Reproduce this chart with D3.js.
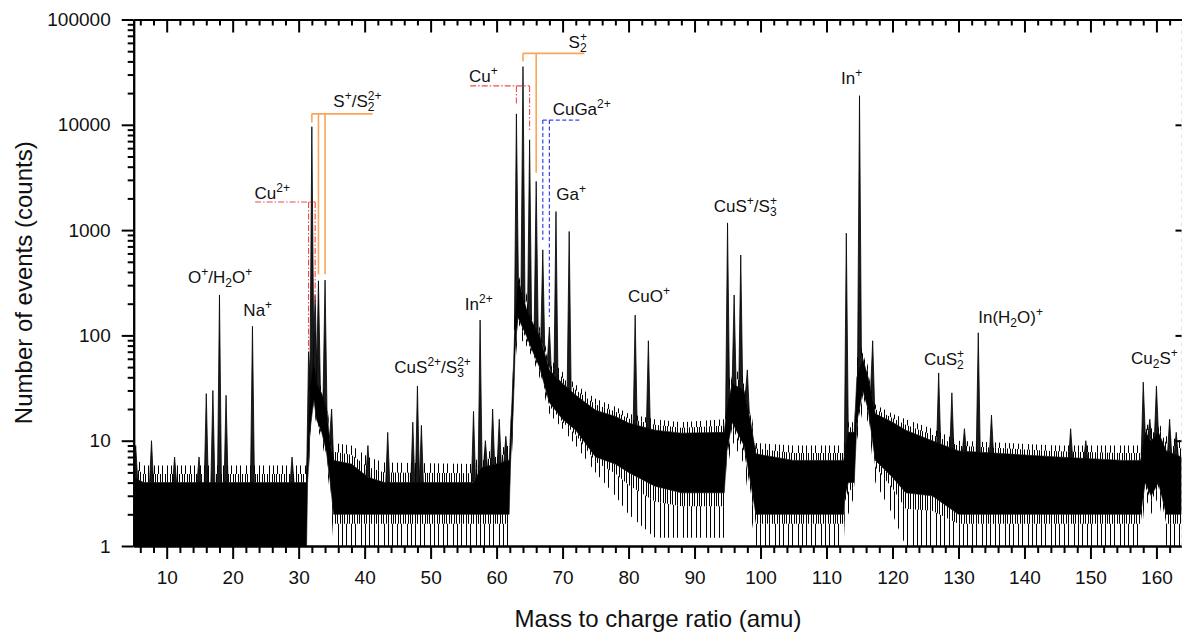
<!DOCTYPE html>
<html>
<head>
<meta charset="utf-8">
<script src="https://cdn.jsdelivr.net/npm/d3@7"></script>
<style>
  body { margin: 0; background: #fff; }
  svg { display: block; font-family: "Liberation Sans", Arial, sans-serif; }
</style>
</head>
<body>
<svg id="chart" width="1182" height="634"></svg>
<script>
var width = 1182,
    height = 634;

// background noise band (m/z, counts):
// floor = lowest sparse drops, low/high = dense band, top = sparse spikes
var bandMz    = [5.0, 6.5, 31.2, 31.35, 31.7, 32.3, 32.7, 33.5, 34.2, 34.8, 35.3, 38.0, 40.5, 43.0, 56.5, 57.6, 61.9, 62.1, 62.5, 62.8, 63.2, 64.5, 65.5, 66.5, 68.0, 70.0, 72.0, 75.0, 78.0, 80.0, 84.0, 88.0, 94.5, 94.9, 95.7, 97.5, 98.5, 99.3, 105, 112.6, 112.8, 113.3, 114.2, 114.6, 115.5, 116.3, 117.4, 120, 122, 126, 130, 145, 155, 157.6, 158.3, 159.2, 160.3, 161.5, 163.8];
var bandFloor = [1, 1, 1, 3, 8, 20, 14, 10, 6, 3, 1, 1, 1, 1, 1, 1, 1, 4, 12, 50, 100, 80, 60, 40, 18, 13, 9, 5, 3, 2, 1.2, 1.2, 1.2, 5, 10, 6, 2, 1, 1, 1, 2, 2, 3, 10, 20, 15, 4, 2, 1, 1, 1, 1, 1, 1, 3, 2, 3, 1, 1];
var bandLow   = [1, 1, 1, 4, 12, 25, 16, 12, 8, 4, 2, 2, 2, 2, 2, 2, 2, 6, 18, 70, 150, 100, 70, 50, 23, 16, 12.6, 7, 6, 5, 3.7, 3.2, 3.2, 8, 15, 9, 4, 2, 2, 2, 3, 4, 4, 15, 30, 20, 6.5, 4.5, 3.2, 3, 2, 2, 2, 2, 4, 3, 4, 2, 2];
var bandHigh  = [4.5, 4, 4, 8, 30, 60, 35, 28, 20, 9, 6.5, 6, 4.5, 4, 4, 5.5, 6.5, 12, 40, 150, 350, 180, 130, 100, 47, 35, 27, 19.5, 17, 14.7, 12.6, 11.8, 12, 20, 35, 30, 15, 7.5, 6.5, 6.5, 8, 12, 12, 40, 60, 40, 18, 15, 12.6, 10, 8, 7, 6.5, 6.5, 12, 10, 12, 8, 7];
var bandTop   = [7, 5.8, 5.8, 10, 40, 80, 45, 35, 25, 12, 9.5, 9, 7, 6.2, 6, 7.5, 9, 16, 50, 200, 450, 250, 160, 120, 60, 45, 34, 25, 21, 18, 16, 15, 16, 30, 50, 40, 20, 9.5, 9, 9, 10, 15, 15, 60, 80, 50, 22, 18, 16, 13, 10, 9, 9, 9, 15, 13, 15, 11, 10];

// peaks: m/z and apex counts
var peakMz  = [5.3, 7.7, 11.2, 14.9, 16, 17, 18, 19, 23, 29, 31.5, 32, 32.5, 33, 34, 35.0, 40.5, 43.5, 47.3, 48, 48.6, 56.5, 57.5, 58.3, 59.4, 60.4, 61.4, 63, 64, 65, 66, 67, 68, 69, 71, 81, 83, 95, 96, 97, 98, 113, 115, 117, 127, 129, 130.9, 133, 135, 147, 149.3, 158, 159, 160, 162, 163];
var peakTop = [9, 10, 7, 7, 28, 30, 242, 27, 122, 7, 70, 9600, 240, 330, 335, 20, 9, 12, 15, 33, 14, 19, 140, 10, 20, 16, 11, 12700, 35700, 7200, 2900, 650, 120, 1500, 970, 156, 89, 1170, 242, 580, 47, 935, 18900, 89, 44, 28.5, 13, 106, 17.5, 13, 10, 36, 16, 33, 16, 12];

// ion labels: text (_{} subscript, ^{} superscript), centre m/z, baseline counts
var labelText  = ["O^{+}/H_{2}O^{+}", "Na^{+}", "Cu^{2+}", "S^{+}/S_{2}^{2+}", "CuS^{2+}/S_{3}^{2+}", "In^{2+}", "Cu^{+}", "S_{2}^{+}", "CuGa^{2+}", "Ga^{+}", "CuO^{+}", "CuS^{+}/S_{3}^{+}", "In^{+}", "CuS_{2}^{+}", "In(H_{2}O)^{+}", "Cu_{2}S^{+}"];
var labelMz    = [18.1, 23.8, 26.0, 38.9, 50.3, 57.3, 58.0, 72.3, 72.9, 71.3, 83.1, 97.7, 113.8, 127.8, 137.9, 159.7];
var labelCount = [316, 153, 1974, 14860, 44.2, 174, 25650, 53280, 12390, 1932, 209, 1476, 24250, 52.4, 131, 53.5];

// isotope brackets
var bracketKind  = ["S", "Cu", "Cu", "S", "CuGa"];
var bracketLevel = [12700, 1850, 23400, 47700, 11100];
var bracketFrom  = [32, 23.4, 56, 64, 67];
var bracketTo    = [41.2, 32.5, 65, 73.3, 72.6];
var bracketMz    = [[32, 33, 34], [31.5, 32.5], [63, 65], [64, 66], [67, 68]];
var bracketEnd   = [[10500, 380, 380], [70, 190], [15500, 8700], [40000, 3500], [805, 150]];

var xMajor = d3.range(10, 161, 10),
    xMinor = d3.range(6, 164, 2).filter(function(v) { return v % 10 !== 0; }),
    yMajor = [1, 10, 100, 1000, 10000, 100000],
    yMinor = [];
yMajor.slice(0, -1).forEach(function(d) {
  for (var k = 2; k < 10; k++) yMinor.push(d * k);
});

var x = d3.scaleLinear().domain([5, 163.8]).range([133.7, 1181.5]);
var y = d3.scaleLog().domain([1, 100000]).range([546, 19.5]);

var svg = d3.select("#chart");

var defs = svg.append("defs");
defs.append("clipPath").attr("id", "plot")
  .append("rect")
    .attr("x", x.range()[0]).attr("y", y.range()[1])
    .attr("width", x.range()[1] - x.range()[0])
    .attr("height", y.range()[0] - y.range()[1]);

// vertical hatching for the noisy fringes (dense next to the band, sparse further out)
function hatch(id, w, xs) {
  var p = defs.append("pattern")
      .attr("id", id)
      .attr("patternUnits", "userSpaceOnUse")
      .attr("width", w).attr("height", 40);
  xs.forEach(function(px) {
    p.append("rect").attr("x", px).attr("y", 0).attr("width", 1).attr("height", 40).attr("fill", "#000");
  });
}
hatch("fringeDense", 17, [0, 2, 4, 7, 9, 12, 14]);
hatch("fringeSparse", 23, [1, 6, 10, 16, 20]);

var band = bandMz.map(function(m, i) {
  return {
    mz: m, floor: bandFloor[i], low: bandLow[i], high: bandHigh[i], top: bandTop[i],
    lowMid: Math.pow(bandFloor[i], 0.3) * Math.pow(bandLow[i], 0.7),
    highMid: Math.sqrt(bandHigh[i] * bandTop[i])
  };
});

function bandArea(a, b) {
  return d3.area()
      .x(function(d) { return x(d.mz); })
      .y0(function(d) { return y(d[a]); })
      .y1(function(d) { return y(d[b]); });
}

var plot = svg.append("g").attr("clip-path", "url(#plot)");

[["floor", "lowMid", "fringeSparse"], ["lowMid", "low", "fringeDense"],
 ["high", "highMid", "fringeDense"], ["highMid", "top", "fringeSparse"]].forEach(function(f) {
  plot.append("path").datum(band)
      .attr("d", bandArea(f[0], f[1]))
      .attr("fill", "url(#" + f[2] + ")");
});

plot.append("path").datum(band)
    .attr("d", bandArea("low", "high"))
    .attr("fill", "#000")
    .attr("stroke", "#000")
    .attr("stroke-width", 0.6);

// peaks drawn as narrow spikes rising out of the band
var baseAt = d3.scaleLinear().domain(bandMz).range(bandHigh);
var halfW = 0.3;

plot.selectAll(".peak")
    .data(peakMz.map(function(m, i) { return {mz: m, top: peakTop[i]}; }))
  .enter().append("path")
    .attr("class", "peak")
    .attr("d", function(d) {
      return "M" + x(d.mz - halfW) + "," + y(baseAt(d.mz - halfW))
          + "L" + x(d.mz) + "," + y(d.top)
          + "L" + x(d.mz + halfW) + "," + y(baseAt(d.mz + halfW)) + "Z";
    })
    .attr("fill", "#1a1a1a")
    .attr("stroke", "#000")
    .attr("stroke-width", 0.8)
    .attr("stroke-linejoin", "miter");

// brackets
var bracketStyle = {
  S:    {stroke: "#fba55a", width: 1.6, dash: null},
  Cu:   {stroke: "#ef4a4e", width: 1.1, dash: "6,2,1.5,2"},
  CuGa: {stroke: "#3743f2", width: 1.2, dash: "4,2.5"}
};

bracketKind.forEach(function(kind, i) {
  var st = bracketStyle[kind];
  var g = svg.append("g")
      .attr("fill", "none")
      .attr("stroke", st.stroke)
      .attr("stroke-width", st.width)
      .attr("stroke-dasharray", st.dash);
  g.append("line")
      .attr("x1", x(bracketFrom[i])).attr("x2", x(bracketTo[i]))
      .attr("y1", y(bracketLevel[i])).attr("y2", y(bracketLevel[i]));
  bracketMz[i].forEach(function(m, j) {
    g.append("line")
        .attr("x1", x(m)).attr("x2", x(m))
        .attr("y1", y(bracketLevel[i])).attr("y2", y(bracketEnd[i][j]));
  });
});

// axes
function styleAxis(g) {
  g.selectAll(".domain").attr("stroke-width", 2).attr("stroke", "#000");
  g.selectAll(".tick line").attr("stroke-width", 2).attr("stroke", "#000");
  g.selectAll(".tick text").attr("font-size", 19).attr("fill", "#111")
      .attr("font-family", "Liberation Sans, Arial, sans-serif");
}

var x0 = y.range()[0], yTop = y.range()[1];

svg.append("g")
    .attr("transform", "translate(0," + x0 + ")")
    .call(d3.axisBottom(x).tickValues(xMinor).tickSize(7).tickSizeOuter(0).tickFormat(""))
    .call(styleAxis);
svg.append("g")
    .attr("transform", "translate(0," + x0 + ")")
    .call(d3.axisBottom(x).tickValues(xMajor).tickSize(13).tickSizeOuter(0).tickPadding(12).tickFormat(d3.format("d")))
    .call(styleAxis);

svg.append("g")
    .attr("transform", "translate(0," + yTop + ")")
    .call(d3.axisTop(x).tickValues(xMinor).tickSize(-6).tickSizeOuter(0).tickFormat(""))
    .call(styleAxis);
svg.append("g")
    .attr("transform", "translate(0," + yTop + ")")
    .call(d3.axisTop(x).tickValues(xMajor).tickSize(-13).tickSizeOuter(0).tickFormat(""))
    .call(styleAxis);

svg.append("g")
    .attr("transform", "translate(" + x.range()[0] + ",0)")
    .call(d3.axisLeft(y).tickValues(yMinor).tickSize(6).tickSizeOuter(0).tickFormat(""))
    .call(styleAxis);
svg.append("g")
    .attr("transform", "translate(" + x.range()[0] + ",0)")
    .call(d3.axisLeft(y).tickValues(yMajor).tickSize(12).tickSizeOuter(0).tickPadding(11).tickFormat(d3.format("d")))
    .call(styleAxis);

var right = svg.append("g")
    .attr("transform", "translate(" + x.range()[1] + ",0)")
    .call(d3.axisRight(y).tickValues(yMajor.slice(1, -1)).tickSize(-6).tickSizeOuter(0).tickFormat(""))
    .call(styleAxis);
right.select(".domain").attr("stroke", "#c8c8c8").attr("stroke-width", 1).attr("stroke-dasharray", "4,4");

// axis titles
svg.append("text")
    .attr("x", 658).attr("y", 627)
    .attr("text-anchor", "middle")
    .attr("font-size", 24)
    .attr("fill", "#111")
    .text("Mass to charge ratio (amu)");

svg.append("text")
    .attr("transform", "translate(32," + ((y.range()[0] + y.range()[1]) / 2) + ")rotate(-90)")
    .attr("text-anchor", "middle")
    .attr("font-size", 24)
    .attr("fill", "#111")
    .text("Number of events (counts)");

// ion labels with sub/superscripts (stacked when a superscript follows a subscript)
function richText(sel, str) {
  var parts = str.match(/_\{[^}]*\}|\^\{[^}]*\}|[^_^]+/g);
  var shift = 0, lastSub = null;
  parts.forEach(function(p) {
    var kind = p[0] === "_" ? "sub" : (p[0] === "^" ? "sup" : "norm");
    var txt = kind === "norm" ? p : p.slice(2, -1);
    var target = kind === "sub" ? 4 : (kind === "sup" ? -7 : 0);
    var t = sel.append("tspan").attr("dy", target - shift).text(txt);
    if (kind !== "norm") t.attr("font-size", 12);
    if (kind === "sup" && lastSub) t.attr("dx", -lastSub.node().getComputedTextLength());
    shift = target;
    lastSub = kind === "sub" ? t : null;
  });
}

labelText.forEach(function(s, i) {
  var t = svg.append("text")
      .attr("x", x(labelMz[i]))
      .attr("y", y(labelCount[i]))
      .attr("text-anchor", "middle")
      .attr("font-size", 17)
      .attr("fill", "#111");
  richText(t, s);
});
</script>
</body>
</html>
